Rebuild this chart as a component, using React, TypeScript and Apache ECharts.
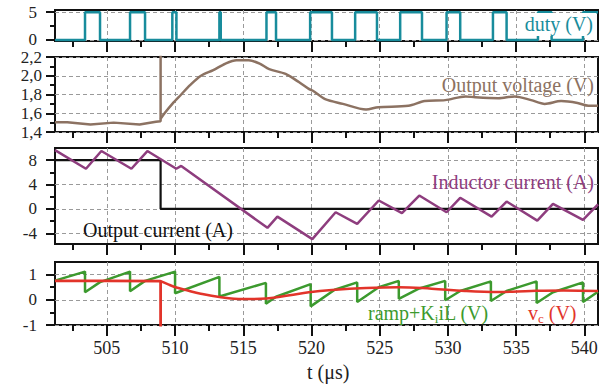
import React, { useEffect, useRef } from "react";
import * as echarts from "echarts";

const X_MIN = 501.2;
const X_MAX = 541;
const xMajorTicks = [505, 510, 515, 520, 525, 530, 535, 540];
const xMinorTicks = [502.5, 507.5, 512.5, 517.5, 522.5, 527.5, 532.5, 537.5];

// panel 1: duty (V)
const dutyOn = [503.4, 506.7, 509.8, 513.25, 516.7, 519.9, 523.2, 526.5, 529.9, 533.3, 536.6, 539.9];
const dutyOff = [504.5, 507.8, 510.1, 513.35, 517.4, 521.5, 524.8, 528.1, 530.9, 534.3, 537.6, 541];
const dutyHigh = 5;
const dutyTicks = [0, 5];
const dutyMinor = [2.5];

// panel 2: output voltage (V)
const vBeforeT = [501.2, 502.1, 503.8, 505.5, 507.4, 508.6, 508.94, 508.94];
const vBeforeV = [1.505, 1.505, 1.48, 1.5, 1.48, 1.51, 1.515, 2.4];
const vAfterT = [508.94, 509.23, 509.8, 510.45, 511.1, 511.9, 512.8, 513.7, 514.5, 515.4, 516.2, 516.9, 518.1, 519.1, 519.8, 520.1, 521.0, 522.3, 524.0, 524.9, 527.1, 528.3, 529.8, 531.3, 532.0, 533.7, 534.9, 536.1, 537.1, 538.3, 539.5, 540.3, 541];
const vAfterV = [1.54, 1.6, 1.7, 1.8, 1.9, 2.0, 2.06, 2.13, 2.165, 2.165, 2.13, 2.07, 2.02, 1.93, 1.86, 1.84, 1.75, 1.7, 1.64, 1.665, 1.68, 1.73, 1.74, 1.78, 1.77, 1.76, 1.78, 1.74, 1.7, 1.73, 1.71, 1.68, 1.68];
const voltTicks = [1.4, 1.6, 1.8, 2.0, 2.2];
const voltMinor = [1.5, 1.7, 1.9, 2.1];

// panel 3: currents (A)
const iLT = [501.2, 503.47, 504.6, 506.8, 507.97, 510.09, 510.45, 516.77, 517.5, 520.06, 521.77, 523.35, 524.93, 526.63, 527.9, 529.9, 530.9, 533.2, 534.3, 536.55, 537.7, 539.9, 541];
const iLV = [9.65, 6.6, 9.5, 6.6, 9.5, 6.6, 7.06, -3.1, -1.26, -4.95, -0.54, -2.46, 1.39, -0.7, 2.2, -0.54, 1.83, -1.26, 1.22, -1.92, 0.84, -1.8, 0.75];
const ioT = [501.2, 508.94, 508.94, 541];
const ioV = [8, 8, 0, 0];
const currTicks = [-4, 0, 4, 8];
const currMinor = [-2, 2, 6];

// panel 4: ramp+KiL and vc (V)
const greenT = [501.2, 503.4, 503.4, 504.5, 506.7, 506.7, 507.8, 510.0, 510.0, 513.25, 513.25, 516.66, 516.66, 517.4, 519.94, 519.94, 521.7, 523.35, 523.35, 524.93, 526.4, 526.4, 527.9, 529.8, 529.8, 530.9, 533.15, 533.15, 534.3, 536.5, 536.5, 537.7, 539.9, 539.9, 541];
const greenV = [0.76, 1.12, 0.3, 0.7, 1.12, 0.34, 0.75, 1.12, 0.26, 0.91, 0.13, 0.67, -0.16, 0.12, 0.62, -0.26, 0.4, 0.69, -0.09, 0.5, 0.75, 0.04, 0.45, 0.75, -0.02, 0.35, 0.73, -0.05, 0.35, 0.73, -0.13, 0.3, 0.69, -0.09, 0.32];
const vcBeforeT = [501.2, 505, 508.94, 508.94];
const vcBeforeV = [0.75, 0.75, 0.74, -1.4];
const vcAfterT = [508.94, 509.5, 510.1, 511.0, 511.8, 513.25, 515.0, 516.7, 518.4, 519.8, 521.5, 524.0, 526.4, 528.8, 531.25, 533.7, 536.1, 538.5, 541];
const vcAfterV = [0.74, 0.61, 0.49, 0.36, 0.25, 0.11, 0.03, 0.05, 0.18, 0.3, 0.39, 0.47, 0.5, 0.44, 0.35, 0.31, 0.35, 0.37, 0.35];
const ctrlTicks = [-1, 0, 1];
const ctrlMinor = [-0.5, 0.5];

const TEAL = "#188c9c";
const BROWN = "#8c7262";
const PURPLE = "#8e3d7e";
const GREEN = "#3c9a2e";
const RED = "#e2342a";
const SERIF = "Liberation Serif";

const zip = (t: number[], v: number[]) => t.map((x, i) => [x, v[i]]);

function dutyData() {
  const d: number[][] = [[X_MIN, 0]];
  dutyOn.forEach((on, i) => {
    const off = dutyOff[i];
    d.push([on, 0], [on, dutyHigh]);
    if (off >= X_MAX) {
      d.push([X_MAX, dutyHigh]);
    } else {
      d.push([off, dutyHigh], [off, 0]);
    }
  });
  if (dutyOff[dutyOff.length - 1] < X_MAX) d.push([X_MAX, 0]);
  return d;
}

const grids = [
  { top: 10, height: 31 },
  { top: 57, height: 75 },
  { top: 148, height: 96 },
  { top: 262, height: 63 },
];
const yRanges = [
  [-0.2, 5.4],
  [1.4, 2.2],
  [-5.75, 10],
  [-1, 1.5],
];
const yMajor = [dutyTicks, voltTicks, currTicks, ctrlTicks];
const yMinor = [dutyMinor, voltMinor, currMinor, ctrlMinor];
const yFormat = [
  (v: number) => String(v),
  (v: number) => v.toFixed(1).replace(".", ","),
  (v: number) => String(v),
  (v: number) => String(v),
];
const yLabelMargin = [18, 13, 18, 18];

export default function App() {
  const ref = useRef<HTMLDivElement>(null);
  useEffect(() => {
    if (!ref.current) return;
    const chart = echarts.init(ref.current, undefined, { renderer: "svg" });
    const dashed = { show: true, lineStyle: { color: "#9a9a9a", type: [4, 3] as any, width: 1 } };

    const xAxes: any[] = [];
    const yAxes: any[] = [];
    grids.forEach((_, i) => {
      xAxes.push({
        type: "value",
        gridIndex: i,
        position: "bottom",
        min: X_MIN,
        max: X_MAX,
        axisLine: { show: false, onZero: false },
        axisTick: { show: true, customValues: xMajorTicks, length: 11, lineStyle: { color: "#111", width: 2 } },
        axisLabel: {
          show: i === 3,
          customValues: xMajorTicks,
          fontFamily: SERIF,
          fontSize: 18,
          color: "#222",
          margin: 14,
        },
        splitLine: dashed,
      });
    });
    grids.forEach((_, i) => {
      xAxes.push({
        type: "value",
        gridIndex: i,
        position: "bottom",
        min: X_MIN,
        max: X_MAX,
        axisLine: { show: false, onZero: false },
        axisTick: { show: true, customValues: xMinorTicks, length: 6, lineStyle: { color: "#111", width: 2 } },
        axisLabel: { show: false },
        splitLine: { show: false },
      });
    });
    grids.forEach((_, i) => {
      yAxes.push({
        type: "value",
        gridIndex: i,
        position: "left",
        min: yRanges[i][0],
        max: yRanges[i][1],
        axisLine: { show: false, onZero: false },
        axisTick: { show: true, customValues: yMajor[i], length: 9, lineStyle: { color: "#111", width: 2 } },
        axisLabel: {
          show: true,
          customValues: yMajor[i],
          formatter: yFormat[i],
          fontFamily: SERIF,
          fontSize: 17,
          color: "#222",
          margin: yLabelMargin[i],
        },
        splitLine: dashed,
      });
    });
    grids.forEach((_, i) => {
      yAxes.push({
        type: "value",
        gridIndex: i,
        position: "left",
        min: yRanges[i][0],
        max: yRanges[i][1],
        axisLine: { show: false, onZero: false },
        axisTick: { show: true, customValues: yMinor[i], length: 5, lineStyle: { color: "#111", width: 2 } },
        axisLabel: { show: false },
        splitLine: { show: false },
      });
    });

    const line = (data: number[][], xi: number, color: string, width: number, smooth: any = false, z = 2) => ({
      type: "line",
      xAxisIndex: xi,
      yAxisIndex: xi,
      data,
      showSymbol: false,
      symbol: "none",
      smooth,
      clip: true,
      z,
      lineStyle: { color, width },
      itemStyle: { color },
    });

    const txt = (text: string, x: number, y: number, color: string, align: string, rich?: any) => ({
      type: "text",
      x,
      y,
      z: 100,
      style: {
        text,
        fill: color,
        fontFamily: SERIF,
        fontSize: 20,
        align,
        textAlign: align,
        verticalAlign: "middle",
        textVerticalAlign: "middle",
        rich,
      },
    });

    const subRich = (color: string) => ({
      n: { fontFamily: SERIF, fontSize: 20, lineHeight: 24, fill: color, color },
      s: { fontFamily: SERIF, fontSize: 13, lineHeight: 12, verticalAlign: "bottom", fill: color, color },
    });

    chart.setOption({
      animation: false,
      backgroundColor: "#fff",
      grid: grids.map((g) => ({
        left: 55,
        width: 543,
        top: g.top,
        height: g.height,
        show: true,
        borderColor: "#111",
        borderWidth: 2,
        backgroundColor: "transparent",
        containLabel: false,
        outerBoundsMode: "none",
      })),
      xAxis: xAxes,
      yAxis: yAxes,
      series: [
        line(dutyData(), 0, TEAL, 2.5),
        line(zip(vBeforeT, vBeforeV), 1, BROWN, 2.5),
        line(zip(vAfterT, vAfterV), 1, BROWN, 2.5, 0.3),
        line(zip(ioT, ioV), 2, "#111", 2.2),
        line(zip(iLT, iLV), 2, PURPLE, 2.5, false, 3),
        line(zip(greenT, greenV), 3, GREEN, 2.5),
        line(zip(vcBeforeT, vcBeforeV), 3, RED, 2.8, false, 3),
        line(zip(vcAfterT, vcAfterV), 3, RED, 2.5, 0.4, 3),
      ],
      graphic: [
        { type: "rect", z: 99, shape: { x: 519, y: 13, width: 77, height: 23 }, style: { fill: "#fff" } },
        txt("duty (V)", 593, 24, TEAL, "right"),
        txt("Output voltage (V)", 594, 85, BROWN, "right"),
        txt("Inductor current (A)", 594, 182, PURPLE, "right"),
        txt("Output current (A)", 83, 230, "#111", "left"),
        txt("{n|ramp+K}{s|i}{n|iL (V)}", 368, 313, GREEN, "left", subRich(GREEN)),
        txt("{n|v}{s|c}{n| (V)}", 528, 313, RED, "left", subRich(RED)),
        txt("t (μs)", 307, 372, "#222", "left"),
      ],
    });
    return () => chart.dispose();
  }, []);
  return (
    <div
      ref={ref}
      style={{ position: "fixed", left: 0, top: 0, width: 609, height: 385, background: "#fff" }}
    />
  );
}
